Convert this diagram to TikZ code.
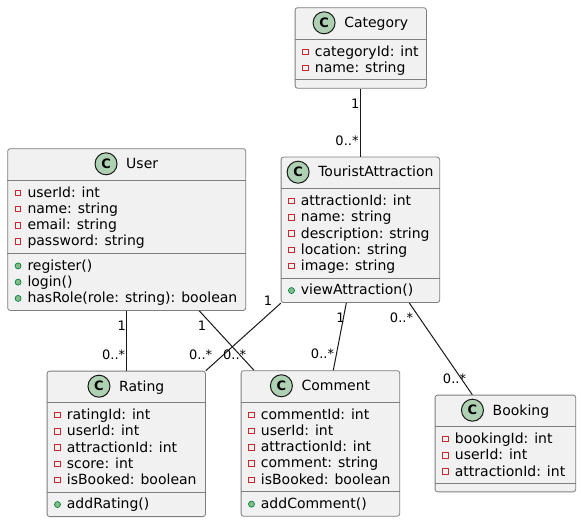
\documentclass[tikz,border=0pt]{standalone}
\usepackage{fontspec}
\setmainfont{DejaVu Sans}
\usetikzlibrary{calc}
\definecolor{boxfill}{HTML}{F1F1F1}
\definecolor{boxdraw}{HTML}{181818}
\definecolor{boxedge}{HTML}{7E7E7E}
\definecolor{cfill}{HTML}{ADD1B2}
\definecolor{privred}{HTML}{C82930}
\definecolor{pubfill}{HTML}{84BE84}
\definecolor{pubdraw}{HTML}{038048}
\tikzset{
 classbox/.style={rectangle, draw=boxedge, fill=boxfill, line width=0.8pt, rounded corners=2.5pt, inner sep=0pt},
 sepline/.style={draw=boxedge, line width=0.8pt},
 titletext/.style={font=\fontsize{14}{16}\selectfont, inner sep=0pt, anchor=base},
 memtext/.style={font=\fontsize{14}{16}\selectfont, inner sep=0pt, anchor=base west},
 cicon/.style={circle, minimum size=22pt, inner sep=0pt, fill=cfill, draw=boxdraw, line width=1pt, font=\fontsize{13}{13}\selectfont\bfseries},
 privicon/.style={rectangle, minimum size=5.5pt, inner sep=0pt, draw=privred, line width=0.8pt},
 pubicon/.style={circle, minimum size=6pt, inner sep=0pt, fill=pubfill, draw=pubdraw, line width=0.7pt},
 assoc/.style={draw=boxdraw, line width=1pt},
 mult/.style={font=\fontsize{13}{15}\selectfont, inner sep=0pt, anchor=base},
}
% #1 name, #2 left, #3 top, #4 width, #5 title, #6 n attrs, #7 attrs, #8 n methods, #9 methods
\newcommand{\umlclass}[9]{%
 \pgfmathsetmacro\hAttr{32+#6*16.25+8}%
 \pgfmathsetmacro\hTot{\hAttr+#8*16.25+8}%
 \node[classbox, minimum width=#4pt, minimum height=\hTot pt, anchor=north west] (#1) at (#2,#3) {};
 \draw[sepline] ($(#1.north west)+(0,32)$) -- ($(#1.north east)+(0,32)$);
 \draw[sepline] ($(#1.north west)+(0,\hAttr)$) -- ($(#1.north east)+(0,\hAttr)$);
 \node[titletext] (#1-t) at ($(#1.north)+(15.5,20.3)$) {#5};
 \node[cicon] (#1-c) at ($(#1-t.base west)+(-20,-4.8)$) {C};
 \foreach \attr [count=\ii] in {#7} {
   \node[memtext] (#1-a\ii) at ($(#1.north west)+(20,{32+12.1+16.25*(\ii-1)+4.8})$) {\attr};
   \node[privicon] (#1-ap\ii) at ($(#1.north west)+(10.6,{32+12.4+16.25*(\ii-1)})$) {};
 }
 \ifnum#8>0
 \foreach \meth [count=\ii] in {#9} {
   \node[memtext] (#1-m\ii) at ($(#1.north west)+(20,{\hAttr+12.1+16.25*(\ii-1)+4.8})$) {\meth};
   \node[pubicon] (#1-mp\ii) at ($(#1.north west)+(10.8,{\hAttr+12.6+16.25*(\ii-1)})$) {};
 }
 \fi
}
\begin{document}
\begin{tikzpicture}[x=1pt,y=-1pt]
\useasboundingbox (0,0) rectangle (581,521);
\umlclass{cat}{294.7}{7.3}{131.3}{Category}{2}{categoryId: int,name: string}{0}{}
\umlclass{ta}{280.7}{156.7}{158.6}{TouristAttraction}{5}{attractionId: int,name: string,description: string,location: string,image: string}{1}{viewAttraction()}
\umlclass{user}{7.3}{148.3}{238}{User}{4}{userId: int,name: string,email: string,password: string}{3}{register(),login(),hasRole(role: string): boolean}
\umlclass{rating}{46.7}{370.7}{158.3}{Rating}{5}{ratingId: int,userId: int,attractionId: int,score: int,isBooked: boolean}{1}{addRating()}
\umlclass{comment}{240.7}{370.3}{158.6}{Comment}{5}{commentId: int,userId: int,attractionId: int,comment: string,isBooked: boolean}{1}{addComment()}
\umlclass{booking}{434.7}{394.7}{140.6}{Booking}{3}{bookingId: int,userId: int,attractionId: int}{0}{}
% connectors
\draw[assoc] (cat.south) -- (cat.south |- ta.north);
\draw[assoc] ($(user.south west)+(119.4,0)$) -- ($(rating.north west)+(80,0)$);
\draw[assoc] ($(user.south west)+(192,0)$) -- ($(comment.north west)+(13.3,0)$);
\draw[assoc] ($(ta.south west)+(0.3,0)$) -- ($(rating.north east)+(0,0)$);
\draw[assoc] ($(ta.south west)+(65.6,0)$) -- ($(comment.north west)+(92.6,0)$);
\draw[assoc] ($(ta.south west)+(128.6,0)$) -- ($(booking.north west)+(37.6,0)$);
% multiplicities
\node[mult] (m1) at (355.3,109) {1};
\node[mult] (m2) at (347,145.7) {0..*};
\node[mult] (m3) at (121.8,330.4) {1};
\node[mult] (m4) at (113.7,359.4) {0..*};
\node[mult] (m5) at (202,330.4) {1};
\node[mult] (m6) at (234.7,359.4) {0..*};
\node[mult] (m7) at (268,305.7) {1};
\node[mult] (m8) at (200.7,359.4) {0..*};
\node[mult] (m9) at (340.5,323) {1};
\node[mult] (m10) at (322.5,359) {0..*};
\node[mult] (m11) at (401.5,322.4) {0..*};
\node[mult] (m12) at (454.5,383.4) {0..*};
\end{tikzpicture}
\end{document}
